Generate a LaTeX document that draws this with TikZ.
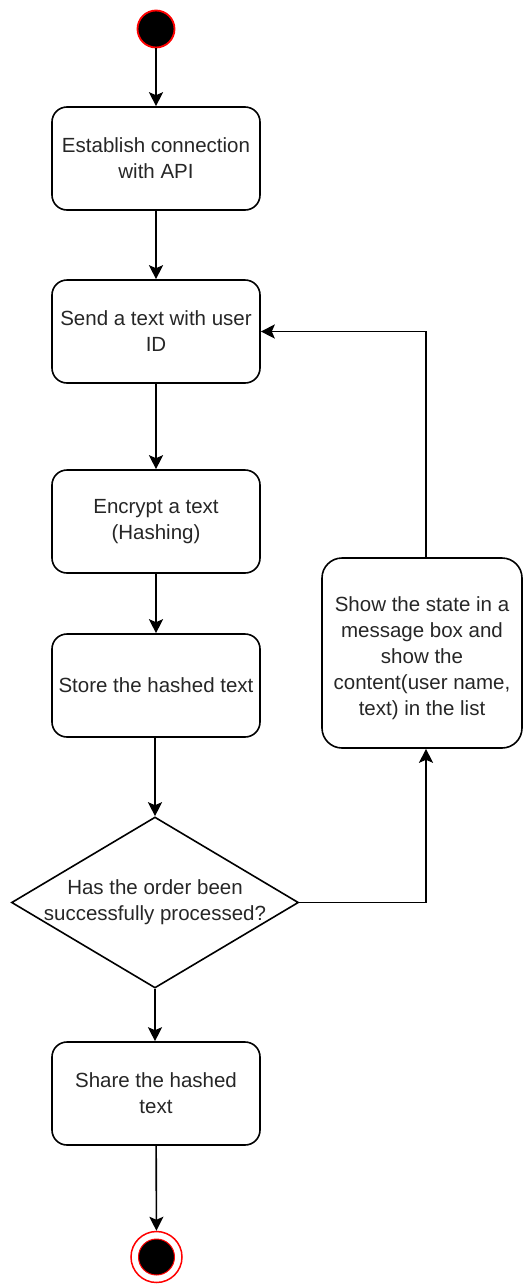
\documentclass[tikz,border=0pt]{standalone}
\usepackage{fontspec}
\setmainfont{Liberation Sans}
\usetikzlibrary{shapes.geometric,arrows.meta}

\begin{document}
\begin{tikzpicture}[x=1pt,y=-1pt,
  lbl/.style={font=\fontsize{20.5}{26}\selectfont, text=black!85, align=center},
  act/.style={lbl, draw, line width=1.6pt, rounded corners=15pt,
    minimum width=208pt, minimum height=103pt, inner sep=0pt},
  flow/.style={line width=1.6pt, -{Stealth[length=14pt,width=14pt,inset=3pt]}},
]
\useasboundingbox (0,0) rectangle (523,1285);

% initial state
\node[circle, fill=black, draw=red, line width=1.8pt, minimum size=37pt, inner sep=0pt] (start) at (156,29) {};

% activities
\node[act] (b1) at (156,158.5) {Establish connection\\with API};
\node[act] (b2) at (156,331.5) {Send a text with user\\ID};
\node[act] (b3) at (156,521.5) {Encrypt a text\\(Hashing)};
\node[act] (b4) at (156,685.5) {Store the hashed text};

% decision
\node[diamond, draw, line width=1.6pt, minimum width=287pt, minimum height=171pt, inner sep=0pt] (dec) at (155,902.5) {};
\node[lbl] (dectext) at (dec.center) {Has the order been\\successfully processed?};

\node[act] (b5) at (156,1093.5) {Share the hashed\\text};

% feedback activity; its text sits a little below the centre
\node[act, minimum width=200pt, minimum height=190pt, rounded corners=20pt] (show) at (422,653) {};
\node[lbl] (showtext) at ([yshift=-5pt]show.center)
  {Show the state in a\\message box and\\show the\\content(user name,\\text) in the list};

% final state
\node[circle, draw=red, fill=white, line width=1.5pt, minimum size=51pt, inner sep=0pt] (end) at (156.5,1257) {};
\node[circle, fill=black, draw=red, line width=1pt, minimum size=36pt, inner sep=0pt] (endcore) at (end.center) {};

% control flow
\draw[flow] (start) -- (b1);
\draw[flow] (b1) -- (b2);
\draw[flow] (b2) -- (b3);
\draw[flow] (b3) -- (b4);
\draw[flow] (b4.south -| dec.north) -- (dec.north);
\draw[flow] (dec.south) -- (dec.south |- b5.north);
\draw[flow] (b5) -- (end);
\draw[flow] (dec.east) -| ([xshift=4pt]show.south);
\draw[flow] ([xshift=4pt]show.north) |- (b2.east);
\end{tikzpicture}
\end{document}
